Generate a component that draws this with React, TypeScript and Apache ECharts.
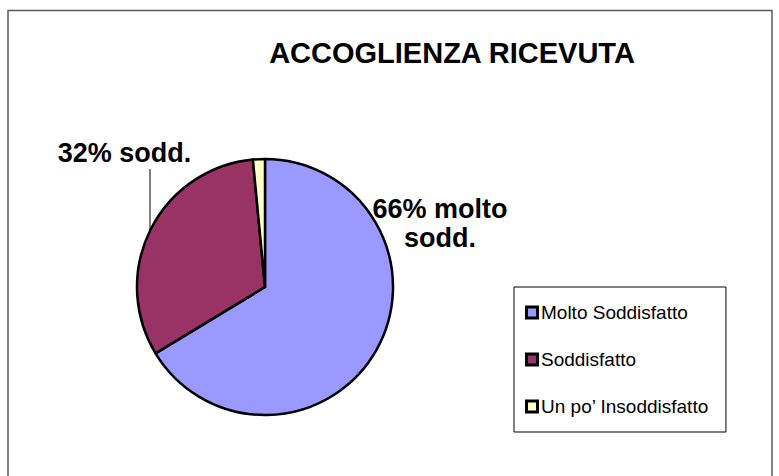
import React, { useEffect, useRef } from "react";
import * as echarts from "echarts";

const titleText = "ACCOGLIENZA RICEVUTA";
const categories = ["Molto Soddisfatto", "Soddisfatto", "Un po’ Insoddisfatto"];
const values = [66, 32, 1.5];
const labelTexts = ["66% molto\nsodd.", "32% sodd.", ""];
const colors = ["#9999FF", "#993366", "#FFFFCC"];

const FONT = "'Liberation Sans', Arial, sans-serif";

export default function App() {
  const ref = useRef<HTMLDivElement>(null);
  useEffect(() => {
    if (!ref.current) return;
    const chart = echarts.init(ref.current, undefined, { renderer: "svg" });
    const data = categories.map((name, i) => ({
      name,
      value: values[i],
      itemStyle: { color: colors[i] },
      label: { show: labelTexts[i] !== "" },
      labelLine: { show: i === 1 },
    }));
    const rich: Record<string, any> = {
      g: { width: 5, height: 10 },
      t: { fontFamily: FONT, fontSize: 19, color: "#000" },
    };
    colors.forEach((c, i) => {
      rich["i" + i] = {
        width: 8,
        height: 8,
        backgroundColor: c,
        borderColor: "#000",
        borderWidth: 3,
      };
    });
    chart.setOption({
      animation: false,
      backgroundColor: "#fff",
      title: {
        text: titleText,
        left: 452,
        top: 38,
        textAlign: "center",
        padding: 0,
        textStyle: { fontFamily: FONT, fontSize: 29, fontWeight: "bold", color: "#000" },
      },
      graphic: [
        {
          type: "rect",
          shape: { x: 8, y: 10.5, width: 764, height: 480 },
          style: { fill: "none", stroke: "#5a5a5a", lineWidth: 1.5 },
          silent: true,
          z: -10,
        },
      ],
      legend: {
        orient: "vertical",
        left: 514,
        top: 287,
        padding: [16, 17, 16, 9],
        itemGap: 28,
        itemWidth: 0,
        itemHeight: 0,
        icon: "rect",
        borderColor: "#000",
        borderWidth: 1,
        data: categories,
        itemStyle: { color: "transparent", borderWidth: 0, opacity: 0 },
        formatter: (name: string) => {
          const idx = categories.indexOf(name);
          return `{i${idx}|}{g|}{t|${name}}`;
        },
        textStyle: { fontFamily: FONT, fontSize: 19, color: "#000", rich },
      },
      series: [
        {
          type: "pie",
          center: [265, 287],
          radius: 128,
          startAngle: 90,
          clockwise: true,
          data,
          itemStyle: { borderColor: "#000", borderWidth: 2.5 },
          emphasis: { disabled: true },
          label: {
            show: true,
            position: "outside",
            formatter: (p: any) => labelTexts[p.dataIndex],
            fontFamily: FONT,
            fontSize: 27,
            fontWeight: "bold",
            color: "#000",
            lineHeight: 29,
            align: "center",
            overflow: "none",
            width: 200,
          },
          labelLine: { show: true, lineStyle: { color: "#000", width: 1 } },
          labelLayout: (p: any) => {
            if (p.dataIndex === 0) {
              return { x: 440, y: 223, align: "center", verticalAlign: "middle" };
            }
            if (p.dataIndex === 1) {
              return {
                x: 124.5,
                y: 153,
                align: "center",
                verticalAlign: "middle",
                labelLinePoints: [
                  [150, 231],
                  [150, 169],
                  [150, 169],
                ],
              };
            }
            return {};
          },
        },
      ],
    });
    return () => chart.dispose();
  }, []);
  return (
    <div
      ref={ref}
      style={{ position: "absolute", left: 0, top: 0, width: 779, height: 476 }}
    />
  );
}
